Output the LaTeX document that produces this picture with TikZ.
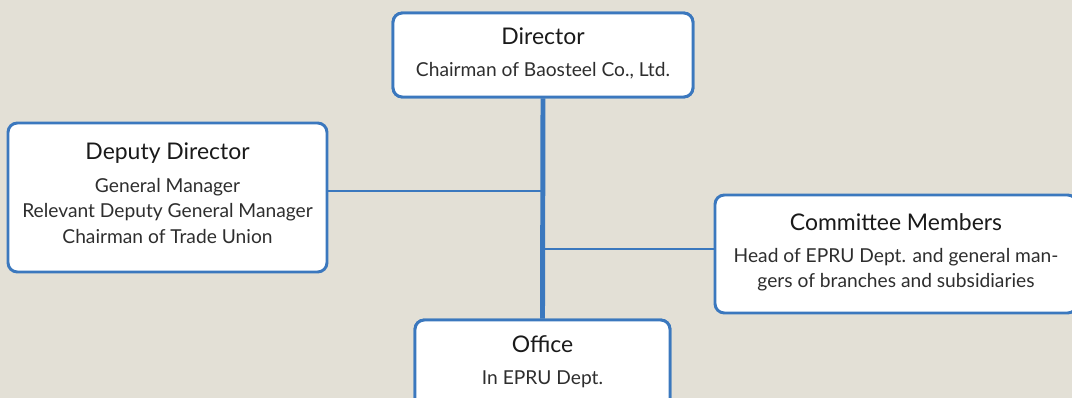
\documentclass[tikz,border=0pt]{standalone}
\usepackage{fontspec}
\setmainfont{Lato}
\definecolor{bg}{HTML}{E3E0D6}
\definecolor{bblue}{HTML}{3B78BE}
\definecolor{txt}{HTML}{1A1A1A}
\definecolor{subtxt}{HTML}{2E2E2E}
\begin{document}
\begin{tikzpicture}[x=0.75pt,y=-0.75pt,
  box/.style={draw=bblue,line width=2.2pt,fill=white,rounded corners=7pt,inner sep=0pt},
  ttl/.style={text=txt,font=\fontsize{17.2}{20}\selectfont,inner sep=0pt},
  sub/.style={text=subtxt,font=\fontsize{14.4}{19}\selectfont,align=center,inner sep=0pt},
  trunk/.style={draw=bblue,line width=3.7pt},
  branch/.style={draw=bblue,line width=2pt}]
\useasboundingbox (0,0) rectangle (1072,398);
\fill[bg] (0,0) rectangle (1072,398);
\clip (0,0) rectangle (1072,398);
% boxes
\node[box,minimum width=300*0.75pt,minimum height=84*0.75pt] (dir) at (543,55) {};
\node[box,minimum width=319*0.75pt,minimum height=149*0.75pt] (dep) at (167.5,197.5) {};
\node[box,minimum width=362*0.75pt,minimum height=118*0.75pt] (com) at (896,254) {};
\node[box,minimum width=255*0.75pt,minimum height=90*0.75pt] (off) at (542.5,365) {};
% connectors
\coordinate (j1) at (542,191);
\coordinate (j2) at (542,249);
\draw[branch] (j1 -| dep.east) -- (j1);
\draw[branch] (j2) -- (j2 -| com.west);
\draw[trunk] (dir.south) -- (off.north);
% redraw boxes over line ends
\node[box,minimum width=300*0.75pt,minimum height=84*0.75pt] (dir2) at (543,55) {};
\node[box,minimum width=255*0.75pt,minimum height=90*0.75pt] (off2) at (542.5,365) {};
% texts
\node[ttl] (dirT) at (543,36) {Director};
\node[sub] (dirS) at (543,71) {Chairman of Baosteel Co., Ltd.};
\node[ttl] (depT) at (167.5,153) {Deputy Director};
\node[sub] (depS) at (167.5,211) {General Manager\\Relevant Deputy General Manager\\Chairman of Trade Union};
\node[ttl] (comT) at (896,222) {Committee Members};
\node[sub] (comS) at (896,270) {Head of EPRU Dept. and general man-\\gers of branches and subsidiaries};
\node[ttl] (offT) at (542.5,344) {Office};
\node[sub] (offS) at (542.5,379) {In EPRU Dept.};
\end{tikzpicture}
\end{document}
